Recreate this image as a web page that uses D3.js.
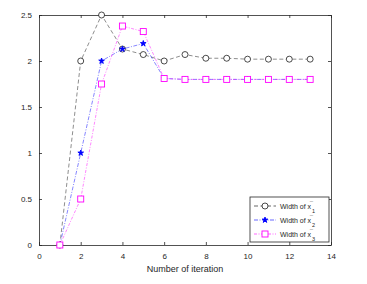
<!DOCTYPE html>
<html>
<head>
<meta charset="utf-8">
<script src="https://cdn.jsdelivr.net/npm/d3@7"></script>
<style>
body { margin: 0; background: #fff; }
text { font-family: "Liberation Sans", Arial, sans-serif; fill: #262626; }
</style>
</head>
<body>
<div id="chart"></div>
<script>
var iterations = [1, 2, 3, 4, 5, 6, 7, 8, 9, 10, 11, 12, 13];
var width1 = [0, 2.0, 2.5, 2.13, 2.07, 2.0, 2.07, 2.03, 2.03, 2.02, 2.02, 2.02, 2.02];
var width2 = [0, 1.0, 2.0, 2.13, 2.19, 1.81, 1.80, 1.80, 1.80, 1.80, 1.80, 1.80, 1.80];
var width3 = [0, 0.5, 1.75, 2.38, 2.32, 1.81, 1.80, 1.80, 1.80, 1.80, 1.80, 1.80, 1.80];
var xTicks = [0, 2, 4, 6, 8, 10, 12, 14];
var yTicks = [0, 0.5, 1, 1.5, 2, 2.5];
var seriesNames = ["1", "2", "3"];

var svgWidth = 367;
var svgHeight = 284;
var margin = { top: 15, right: 36, bottom: 39, left: 39 };
var width = svgWidth - margin.left - margin.right;
var height = svgHeight - margin.top - margin.bottom;

var svg = d3.select("#chart").append("svg")
    .attr("width", svgWidth)
    .attr("height", svgHeight);

var chartGroup = svg.append("g")
    .attr("transform", `translate(${margin.left}, ${margin.top})`);

var x = d3.scaleLinear().domain([0, 14]).range([0, width]);
var y = d3.scaleLinear().domain([0, 2.5]).range([height, 0]);

// axes box, matlab style with inward ticks
function styleAxis(g) {
    g.select(".domain").attr("stroke", "#262626").attr("stroke-width", 0.8);
    g.selectAll(".tick line").attr("stroke", "#262626").attr("stroke-width", 0.8);
    g.selectAll("text").style("font-size", "8px").attr("fill", "#404040");
}
chartGroup.append("g")
    .attr("transform", `translate(0, ${height})`)
    .call(d3.axisBottom(x).tickValues(xTicks).tickSize(-3).tickPadding(8).tickSizeOuter(0))
    .call(styleAxis);
chartGroup.append("g")
    .call(d3.axisTop(x).tickValues(xTicks).tickSize(-3).tickFormat("").tickSizeOuter(0))
    .call(styleAxis);
chartGroup.append("g")
    .call(d3.axisLeft(y).tickValues(yTicks).tickSize(-3).tickPadding(7)
        .tickFormat(d3.format("~g")).tickSizeOuter(0))
    .call(styleAxis);
chartGroup.append("g")
    .attr("transform", `translate(${width}, 0)`)
    .call(d3.axisRight(y).tickValues(yTicks).tickSize(-3).tickFormat("").tickSizeOuter(0))
    .call(styleAxis);

var series = [
    { values: width1, color: "#000000", dash: "4,2.5", marker: "circle" },
    { values: width2, color: "#0000ff", dash: "4,1.5,1,1.5", marker: "star" },
    { values: width3, color: "#ff00ff", dash: "3,1.5,1,1.5", marker: "square" }
];

var line = d3.line()
    .x((d, i) => x(iterations[i]))
    .y(d => y(d));

function drawMarker(g, type, color) {
    if (type === "circle") {
        g.append("circle").attr("r", 3).attr("fill", "#fff").attr("stroke", color).attr("stroke-width", 0.7);
    } else if (type === "square") {
        g.append("rect").attr("x", -3).attr("y", -3).attr("width", 6).attr("height", 6)
            .attr("fill", "#fff").attr("stroke", color).attr("stroke-width", 0.9);
    } else {
        g.append("path").attr("d", d3.symbol().type(d3.symbolStar).size(10)())
            .attr("fill", color).attr("stroke", color).attr("stroke-width", 0.9);
    }
}

series.forEach(function(s) {
    chartGroup.append("path")
        .datum(s.values)
        .attr("d", line)
        .attr("fill", "none")
        .attr("stroke", s.color)
        .attr("stroke-opacity", s.marker === "circle" ? 0.75 : 0.8)
        .attr("stroke-width", 0.6)
        .attr("stroke-dasharray", s.dash);
});
series.forEach(function(s) {
    s.values.forEach(function(v, i) {
        var g = chartGroup.append("g")
            .attr("transform", `translate(${x(iterations[i])}, ${y(v)})`);
        drawMarker(g, s.marker, s.color);
    });
});

// x label
chartGroup.append("text")
    .attr("x", width / 2)
    .attr("y", height + 27)
    .attr("text-anchor", "middle")
    .style("font-size", "9px")
    .text("Number of iteration");

// legend
var legend = svg.append("g").attr("transform", "translate(250, 197)");
legend.append("rect")
    .attr("width", 79).attr("height", 45)
    .attr("fill", "#fff").attr("stroke", "#262626").attr("stroke-width", 0.8);
series.forEach(function(s, i) {
    var row = legend.append("g").attr("transform", `translate(0, ${9 + i * 14})`);
    row.append("line")
        .attr("x1", 4).attr("x2", 26).attr("y1", 0).attr("y2", 0)
        .attr("stroke", s.color).attr("stroke-width", 0.6)
        .attr("stroke-dasharray", s.dash);
    var m = row.append("g").attr("transform", "translate(15, 0)");
    drawMarker(m, s.marker, s.color);
    var t = row.append("text")
        .attr("x", 30).attr("y", 2.5)
        .style("font-size", "7px");
    t.append("tspan").text("Width of x");
    t.append("tspan").attr("dx", -1.5).attr("dy", -3).style("font-size", "6px").text("¯");
    t.append("tspan").attr("dx", -1).attr("dy", 7).style("font-size", "5.5px").text(seriesNames[i]);
});
</script>
</body>
</html>
